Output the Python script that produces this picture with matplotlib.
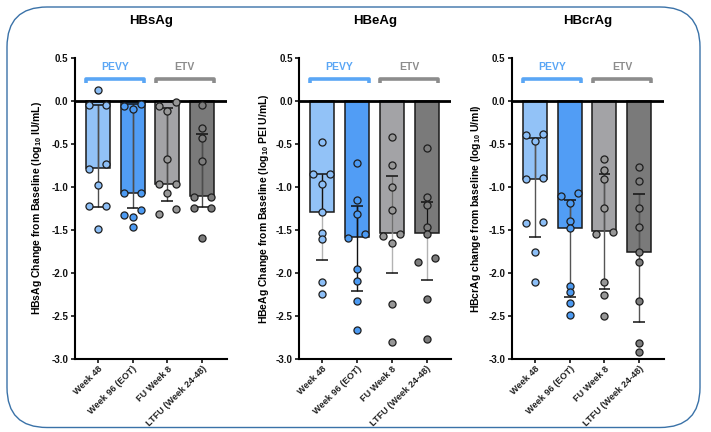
import numpy as np
import matplotlib
matplotlib.use('Agg')
import matplotlib.pyplot as plt
from matplotlib.patches import FancyBboxPatch

plt.rcParams['font.family'] = 'Liberation Sans'
plt.rcParams['font.weight'] = 'bold'
plt.rcParams['mathtext.fontset'] = 'custom'
plt.rcParams['mathtext.rm'] = 'Liberation Sans:bold'
plt.rcParams['mathtext.bf'] = 'Liberation Sans:bold'

# categories
timepoints = ['Week 48', 'Week 96 (EOT)', 'FU Week 8', 'LTFU (Week 24-48)']
titles = ['HBsAg', 'HBeAg', 'HBcrAg']
ylabels = [r'HBsAg Change from Baseline (log$_{\mathbf{10}}$ IU/mL)',
           r'HBeAg Change from Baseline (log$_{\mathbf{10}}$ PEI U/mL)',
           r'HBcrAg change from baseline (log$_{\mathbf{10}}$ U/ml)']

# HBsAg individual values
hbs_w48 = [0.13, -0.05, -0.05, -0.73, -0.79, -0.98, -1.22, -1.22, -1.49]
hbs_w96 = [-0.03, -0.06, -0.09, -1.07, -1.07, -1.27, -1.33, -1.35, -1.47]
hbs_fu8 = [-0.01, -0.06, -0.12, -0.67, -0.97, -0.97, -1.07, -1.26, -1.31]
hbs_ltfu = [-0.05, -0.32, -0.43, -0.70, -1.12, -1.12, -1.24, -1.24, -1.59]
hbs_bar = [-0.78, -1.07, -0.97, -1.10]
hbs_err_hi = [-0.05, -0.03, -0.085, -0.38]
hbs_err_lo = [-1.23, -1.25, -1.16, -1.23]

# HBeAg individual values
hbe_w48 = [-0.48, -0.85, -0.85, -0.97, -1.29, -1.53, -1.61, -2.10, -2.24]
hbe_w96 = [-0.72, -1.15, -1.31, -1.55, -1.59, -1.95, -2.09, -2.33, -2.66]
hbe_fu8 = [-0.42, -0.75, -1.00, -1.27, -1.55, -1.57, -1.65, -2.36, -2.80]
hbe_ltfu = [-0.55, -1.12, -1.21, -1.46, -1.55, -1.82, -1.87, -2.30, -2.77]
hbe_bar = [-1.29, -1.585, -1.53, -1.54]
hbe_err_hi = [-0.85, -1.22, -0.87, -1.17]
hbe_err_lo = [-1.85, -2.21, -2.00, -2.085]

# HBcrAg individual values
hbcr_w48 = [-0.38, -0.40, -0.47, -0.90, -0.91, -1.41, -1.42, -1.76, -2.10]
hbcr_w96 = [-1.07, -1.10, -1.19, -1.40, -1.48, -2.15, -2.22, -2.35, -2.49]
hbcr_fu8 = [-0.68, -0.80, -0.91, -1.24, -1.52, -1.55, -2.11, -2.26, -2.50]
hbcr_ltfu = [-0.77, -0.93, -1.25, -1.46, -1.76, -1.87, -2.33, -2.81, -2.92]
hbcr_bar = [-0.91, -1.48, -1.51, -1.755]
hbcr_err_hi = [-0.43, -1.15, -0.85, -1.08]
hbcr_err_lo = [-1.585, -2.28, -2.19, -2.57]

panels = [
    ([hbs_w48, hbs_w96, hbs_fu8, hbs_ltfu], hbs_bar, hbs_err_hi, hbs_err_lo),
    ([hbe_w48, hbe_w96, hbe_fu8, hbe_ltfu], hbe_bar, hbe_err_hi, hbe_err_lo),
    ([hbcr_w48, hbcr_w96, hbcr_fu8, hbcr_ltfu], hbcr_bar, hbcr_err_hi, hbcr_err_lo),
]

bar_colors = ['#92c2f7', '#519df5', '#a3a3a6', '#7a7a7a']
pt_colors = ['#8cbef6', '#4c9af2', '#979797', '#7c7c7c']
whisk_out = [['#4d4d4d'] * 4,
             ['#b3b3b3', '#111111', '#b3b3b3', '#b3b3b3'],
             ['#555555'] * 4]
whisk_in = [['#4d4d4d'] * 4,
            ['#111111', '#111111', '#6e6e6e', '#111111'],
            ['#555555'] * 4]


def swarm(vals, w=0.244, gap=0.065):
    # spread points that sit too close vertically (prism style scatter)
    order = np.argsort(vals)[::-1]
    v = np.asarray(vals)[order]
    offs = np.zeros(len(v))
    groups, cur = [], [0]
    for i in range(1, len(v)):
        if v[i - 1] - v[i] < gap:
            cur.append(i)
        else:
            groups.append(cur)
            cur = [i]
    groups.append(cur)
    for g in groups:
        n = len(g)
        if n == 2:
            o = [w, -w]
        elif n == 3:
            o = [w, -w, 0]
        elif n > 3:
            o = np.linspace(w, -w, n)
        else:
            o = [0]
        offs[g] = o
    res = np.zeros(len(v))
    res[order] = offs
    return res


fig = plt.figure(figsize=(7.11, 4.32), dpi=100)
fig.patch.set_facecolor('white')

border = FancyBboxPatch((7, 4.5), 693, 420.5, boxstyle='round,pad=0,rounding_size=40',
                        transform=None, facecolor='none', edgecolor='#3a72a8', linewidth=1.0)
fig.patches.append(border)

lefts = [0.105, 0.4205, 0.7197]
label_x = [-0.199, -0.184, -0.186]
x = np.arange(4)
bw = 0.69

for k, (pts, bars, ehi, elo) in enumerate(panels):
    ax = fig.add_axes([lefts[k], 0.169, 0.2138, 0.6968])
    ax.bar(x, bars, width=bw, color=bar_colors, edgecolor='#1a1a1a', linewidth=1.1, zorder=1)

    for i in range(4):
        ax.vlines(x[i], elo[i], ehi[i], color=whisk_out[k][i], lw=1.0, zorder=2)
        inner_lo = max(elo[i], bars[i])
        if inner_lo < ehi[i]:
            ax.vlines(x[i], inner_lo, ehi[i], color=whisk_in[k][i], lw=1.0, zorder=2)
        ax.hlines([ehi[i], elo[i]], x[i] - 0.17, x[i] + 0.17, color='#111111', lw=1.1, zorder=2)

    ax.axhline(0, color='black', lw=2.0, zorder=2.5)

    for i in range(4):
        ax.scatter(x[i] + swarm(pts[i]), pts[i], s=26, color=pt_colors[i],
                   edgecolors='#1e1e1e', linewidths=0.9, zorder=3, clip_on=False)

    # group brackets
    for (a, b), lab, col in [((0, 1), 'PEVY', '#5aa6f5'), ((2, 3), 'ETV', '#8c8c8c')]:
        xl, xr = a - 0.34, b + 0.34
        ax.plot([xl, xl, xr, xr], [0.205, 0.25, 0.25, 0.205], color=col, lw=2.6,
                solid_joinstyle='round', solid_capstyle='butt', zorder=3)
        ax.text((a + b) / 2, 0.39, lab, color=col, fontsize=7.5, fontweight='bold',
                ha='center', va='center')

    ax.set_xlim(-0.66, 3.70)
    ax.set_ylim(-3.0, 0.5)
    yt = np.arange(-3.0, 0.51, 0.5)
    ax.set_yticks(yt)
    ax.set_yticklabels([f'{v:.1f}' for v in yt], fontsize=7, fontweight='bold')
    ax.set_xticks(x)
    ax.set_xticklabels(timepoints, rotation=45, ha='right', rotation_mode='anchor',
                       fontsize=6.6, fontweight='bold', color='#222222')
    ax.tick_params(axis='both', length=3, width=1.2, pad=1.5, colors='#111111')
    ax.tick_params(axis='x', labelcolor='#222222', pad=1.0)
    for s in ['top', 'right']:
        ax.spines[s].set_visible(False)
    for s in ['left', 'bottom']:
        ax.spines[s].set_linewidth(1.5)
    ax.set_ylabel(ylabels[k], fontsize=7.5, fontweight='bold')
    ax.yaxis.set_label_coords(label_x[k], 0.5)
    ax.text(0.5, 1.123, titles[k], transform=ax.transAxes, ha='center', va='center',
            fontsize=9.5, fontweight='bold')

fig.savefig('out.png', dpi=100)
